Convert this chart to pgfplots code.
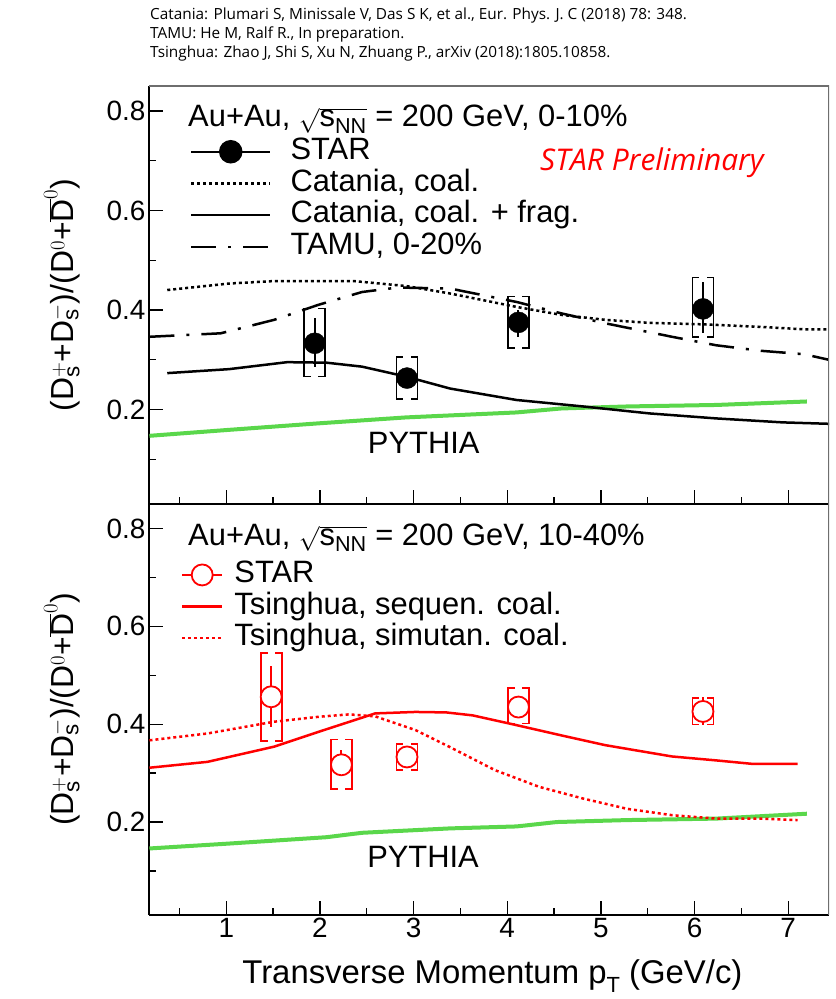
\documentclass[border=0pt]{standalone}
\usepackage{pgfplots}
\usepackage{pgfplotstable}
\pgfplotsset{compat=1.18}
\usepackage{fontspec}
\setmainfont{Liberation Sans}
\newfontfamily\opensans{Open Sans}
\definecolor{pygreen}{RGB}{90,215,75}
\definecolor{framegray}{RGB}{110,110,110}

% STAR data: x, y, stat+, stat-, sys+, sys-
\pgfplotstableread{
x     y     statp statm sysp  sysm
1.945 0.333 0.050 0.047 0.070 0.067
2.93  0.263 0.020 0.020 0.042 0.042
4.12  0.375 0.025 0.029 0.052 0.051
6.09  0.402 0.055 0.049 0.063 0.056
}\startop
\pgfplotstableread{
x     y     statp statm sysp  sysm
1.48  0.456 0.062 0.062 0.090 0.090
2.23  0.317 0.030 0.023 0.052 0.049
2.93  0.333 0.010 0.010 0.027 0.027
4.12  0.435 0.015 0.015 0.039 0.034
6.09  0.426 0.030 0.028 0.028 0.027
}\starbot

\pgfplotsset{
  panel/.style={
    width=680bp, scale only axis,
    xmin=0.175, xmax=7.436, ymin=0.01, ymax=0.85,
    axis x line*=bottom, axis y line*=left,
    axis line style={-, line width=2bp, black},
    tick align=inside,
    xtick={1,2,3,4,5,6,7}, minor xtick={0.5,1.5,2.5,3.5,4.5,5.5,6.5},
    ytick={0.2,0.4,0.6,0.8}, minor ytick={0.1,0.3,0.5,0.7},
    major tick length=14bp, minor tick length=7bp,
    tick style={black, line width=1.3bp},
    tick label style={font=\fontsize{28}{28}\selectfont},
    /pgf/number format/assume math mode=true,
    every axis y label/.style={at={(axis description cs:-0.128,0.5)}, rotate=90, anchor=center, font=\fontsize{32}{32}\selectfont},
    every axis x label/.style={at={(axis description cs:0.505,-0.1655)}, anchor=base, font=\fontsize{33}{33}\selectfont},
    ylabel={(D$^{+}_{\mathrm{s}}$+D$^{-}_{\mathrm{s}}$)/(D$^{0}$+$\overline{\mathrm{D}}^{0}$)},
    legend cell align=left,
  },
  legmarkA/.style={legend image code/.code={\draw[mark repeat=2,mark phase=2,##1] plot coordinates {(0bp,0bp) (39.5bp,0bp) (79bp,0bp)};}},
  leglineA/.style={legend image code/.code={\draw[##1] (0bp,0bp) -- (79bp,0bp);}},
  legmarkB/.style={legend image code/.code={\draw[mark repeat=2,mark phase=2,##1] plot coordinates {(0bp,0bp) (20bp,0bp) (40bp,0bp)};}},
  leglineB/.style={legend image code/.code={\draw[##1] (0bp,0bp) -- (40bp,0bp);}},
  sysbar/.style={draw=none, forget plot, error bars/error mark=none, error bars/error bar style={draw=#1, line width=1.6bp, line cap=rect}},
}

% systematic brackets: vertical sides and short inward caps
\newcommand{\sysbrackets}[2]{%
  \addplot[sysbar=#2, xshift=-10.5bp, error bars/y dir=both, error bars/y explicit] table[x=x, y=y, y error plus=sysp, y error minus=sysm] {#1};
  \addplot[sysbar=#2, xshift=10.5bp, error bars/y dir=both, error bars/y explicit] table[x=x, y=y, y error plus=sysp, y error minus=sysm] {#1};
  \addplot[sysbar=#2, xshift=-10.5bp, error bars/x dir=plus, error bars/x fixed=0.064] table[x=x, y expr=\thisrow{y}+\thisrow{sysp}] {#1};
  \addplot[sysbar=#2, xshift=-10.5bp, error bars/x dir=plus, error bars/x fixed=0.064] table[x=x, y expr=\thisrow{y}-\thisrow{sysm}] {#1};
  \addplot[sysbar=#2, xshift=10.5bp, error bars/x dir=minus, error bars/x fixed=0.064] table[x=x, y expr=\thisrow{y}+\thisrow{sysp}] {#1};
  \addplot[sysbar=#2, xshift=10.5bp, error bars/x dir=minus, error bars/x fixed=0.064] table[x=x, y expr=\thisrow{y}-\thisrow{sysm}] {#1};
}

\begin{document}
\begin{tikzpicture}
\useasboundingbox (0,0) rectangle (836bp,999bp);

\node[anchor=base west, font=\opensans\fontsize{15.4}{15.4}\selectfont, inner sep=0pt] at (150bp,979.5bp) {Catania: Plumari S, Minissale V, Das S K, et al., Eur. Phys. J. C (2018) 78: 348.};
\node[anchor=base west, font=\opensans\fontsize{15.4}{15.4}\selectfont, inner sep=0pt] at (150bp,960.5bp) {TAMU: He M, Ralf R., In preparation.};
\node[anchor=base west, font=\opensans\fontsize{15.4}{15.4}\selectfont, inner sep=0pt] at (150bp,941.5bp) {Tsinghua: Zhao J, Shi S, Xu N, Zhuang P., arXiv (2018):1805.10858.};

% ---------------- top panel ----------------
\begin{axis}[panel, at={(149bp,495bp)}, anchor=south west, height=418bp, xticklabels={},
  legend style={at={(0.0603,0.8806)}, anchor=north west, draw=none, fill=none, inner sep=0pt, outer sep=0pt,
    font=\fontsize{31}{31}\selectfont, row sep=0pt,
    nodes={inner sep=0pt, minimum height=31.7bp, text height=22bp, text depth=6.5bp},
    /tikz/every odd column/.append style={column sep=19bp}}]

\addlegendimage{black, line width=2.5bp, mark=*, mark size=10.5bp, legmarkA}
\addlegendentry{STAR}
\addlegendimage{black, line width=2.5bp, dash pattern=on 3bp off 3bp, leglineA}
\addlegendentry{Catania, coal.}
\addlegendimage{black, line width=2.5bp, leglineA}
\addlegendentry{Catania, coal. + frag.}
\addlegendimage{black, line width=2.5bp, dash pattern=on 25bp off 12bp on 3bp off 12bp, leglineA}
\addlegendentry{TAMU, 0-20\%}

% PYTHIA
\addplot[pygreen, line width=4bp, forget plot] coordinates {
(0.18,0.147) (1.03,0.159) (1.98,0.172) (2.92,0.184) (4.10,0.194) (4.58,0.202) (5.28,0.206) (6.23,0.209) (7.20,0.216)};
% Catania coal
\addplot[black, line width=2.5bp, dash pattern=on 3bp off 3bp, forget plot] coordinates {
(0.37,0.440) (1.03,0.453) (1.51,0.458) (2.36,0.458) (2.92,0.448) (3.39,0.433) (4.10,0.406) (4.58,0.390) (5.05,0.380) (5.52,0.374) (6.09,0.371) (6.70,0.366) (7.17,0.361) (7.46,0.361)};
% TAMU
\addplot[black, line width=2.5bp, dash pattern=on 25bp off 12bp on 3bp off 12bp, forget plot] coordinates {
(0.18,0.346) (0.94,0.353) (1.51,0.380) (1.98,0.410) (2.45,0.436) (2.83,0.445) (3.39,0.443) (4.10,0.416) (4.58,0.393) (5.05,0.373) (5.76,0.346) (6.23,0.329) (6.70,0.318) (7.17,0.311) (7.43,0.300)};
% Catania coal + frag
\addplot[black, line width=2.5bp, forget plot] coordinates {
(0.37,0.273) (1.03,0.281) (1.65,0.295) (2.07,0.294) (2.45,0.286) (2.92,0.266) (3.39,0.242) (4.10,0.219) (4.81,0.206) (5.52,0.192) (6.23,0.182) (6.94,0.174) (7.46,0.171)};

\sysbrackets{\startop}{black}
\addplot[only marks, black, mark=*, mark size=10.5bp, forget plot,
  error bars/.cd, y dir=both, y explicit, error mark=none, error bar style={line width=2bp, black}]
  table[x=x, y=y, y error plus=statp, y error minus=statm] {\startop};

\draw[framegray, line width=1.5bp] (rel axis cs:0,1) -- (rel axis cs:1,1) -- (rel axis cs:1,0);
\node[anchor=base west, inner sep=0pt, font=\fontsize{31}{31}\selectfont] at (rel axis cs:0.0574,0.902) {Au+Au, $\sqrt{\mathrm{s}_{\mathrm{NN}}}$ = 200 GeV, 0-10\%};
\node[anchor=base west, inner sep=0pt, text=red, font=\opensans\itshape\fontsize{30}{30}\selectfont] at (rel axis cs:0.575,0.797) {STAR Preliminary};
\node[anchor=base, inner sep=0pt, font=\fontsize{31}{31}\selectfont] at (rel axis cs:0.404,0.122) {PYTHIA};
\end{axis}

% ---------------- bottom panel ----------------
\begin{axis}[panel, at={(149bp,84bp)}, anchor=south west, height=411bp,
  xlabel={Transverse Momentum p\raisebox{-0.55ex}{\fontsize{22}{22}\selectfont T} (GeV/c)},
  legend style={at={(0.047,0.8657)}, anchor=north west, draw=none, fill=none, inner sep=0pt, outer sep=0pt,
    font=\fontsize{31}{31}\selectfont, row sep=0pt,
    nodes={inner sep=0pt, minimum height=31.5bp, text height=22bp, text depth=6.5bp},
    /tikz/every odd column/.append style={column sep=11bp}}]

\addlegendimage{red, line width=2.5bp, mark=*, mark size=10.5bp, mark options={fill=white, draw=red, line width=1.8bp}, legmarkB}
\addlegendentry{STAR}
\addlegendimage{red, line width=2.5bp, leglineB}
\addlegendentry{Tsinghua, sequen. coal.}
\addlegendimage{red, line width=2.5bp, dash pattern=on 3bp off 3bp, leglineB}
\addlegendentry{Tsinghua, simutan. coal.}

% PYTHIA
\addplot[pygreen, line width=4bp, forget plot] coordinates {
(0.18,0.146) (1.03,0.156) (2.07,0.169) (2.45,0.178) (3.39,0.187) (4.10,0.191) (4.53,0.200) (5.28,0.204) (6.23,0.207) (7.20,0.217)};
% Tsinghua sequential
\addplot[red, line width=2.5bp, forget plot] coordinates {
(0.18,0.311) (0.80,0.323) (1.51,0.354) (1.98,0.384) (2.59,0.422) (3.02,0.425) (3.35,0.424) (3.63,0.418) (4.10,0.398) (4.58,0.377) (5.05,0.357) (5.76,0.334) (6.23,0.326) (6.61,0.319) (7.10,0.319)};
% Tsinghua simultaneous
\addplot[red, line width=2.5bp, dash pattern=on 3bp off 3bp, forget plot] coordinates {
(0.18,0.367) (0.80,0.381) (1.51,0.405) (1.98,0.415) (2.31,0.420) (2.59,0.416) (3.02,0.388) (3.39,0.353) (3.87,0.306) (4.34,0.272) (4.81,0.248) (5.28,0.227) (5.76,0.214) (6.23,0.207) (6.70,0.207) (7.10,0.204)};

\sysbrackets{\starbot}{red}
\addplot[only marks, red, mark=*, mark size=10.5bp, mark options={fill=white, draw=red, line width=1.8bp}, forget plot,
  error bars/.cd, y dir=both, y explicit, error mark=none, error bar style={line width=2bp, red}]
  table[x=x, y=y, y error plus=statp, y error minus=statm] {\starbot};

\draw[framegray, line width=1.5bp] (rel axis cs:1,1) -- (rel axis cs:1,0);
\node[anchor=base west, inner sep=0pt, font=\fontsize{31}{31}\selectfont] at (rel axis cs:0.0574,0.9002) {Au+Au, $\sqrt{\mathrm{s}_{\mathrm{NN}}}$ = 200 GeV, 10-40\%};
\node[anchor=base, inner sep=0pt, font=\fontsize{31}{31}\selectfont] at (rel axis cs:0.403,0.1144) {PYTHIA};
\end{axis}
\end{tikzpicture}
\end{document}
